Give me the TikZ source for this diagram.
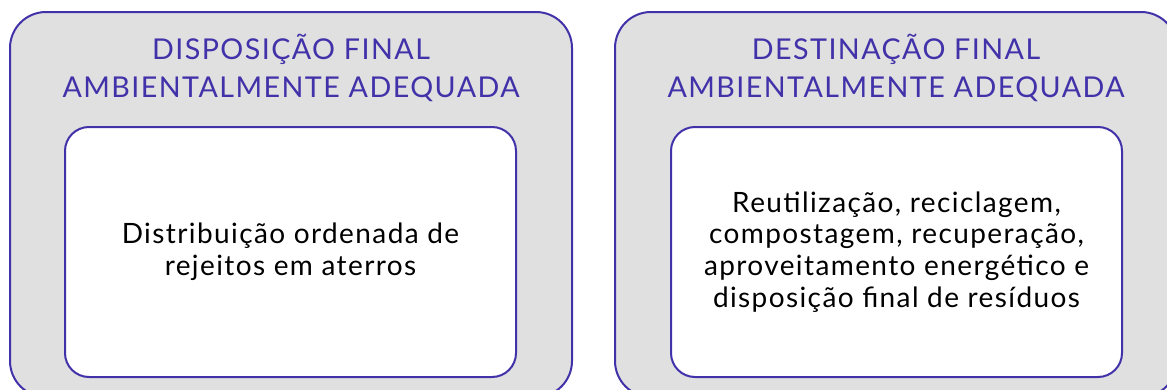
\documentclass[tikz,border=0pt]{standalone}
\usepackage{fontspec}
\setmainfont{Lato}[LetterSpace=5]
\usetikzlibrary{positioning}

\definecolor{roxo}{RGB}{66,50,170}
\definecolor{cinza}{RGB}{224,224,224}

\tikzset{
  caixa/.style={draw=roxo, line width=1.5pt, fill=cinza, rounded corners=27pt,
    minimum width=421.5pt, minimum height=288.75pt, inner sep=0pt},
  interna/.style={draw=roxo, line width=1.5pt, fill=white, rounded corners=18pt,
    minimum width=338.25pt, minimum height=187.5pt, inner sep=0pt,
    align=center, font=\fontsize{21}{23.8}\selectfont},
  titulo/.style={text=roxo, align=center, font=\fontsize{21.5}{29}\selectfont}
}

\begin{document}
\begin{tikzpicture}[x=0.75pt,y=-0.75pt]

\useasboundingbox (0,0) rectangle (1167,389);
\clip (0,0) rectangle (1167,389);

  % caixas externas
  \node[caixa] (esq) at (291,204.5) {};
  \node[caixa] (dir) at (896,204.5) {};

  \node[titulo] (tesq) at (291,68) {DISPOSIÇÃO FINAL\\AMBIENTALMENTE ADEQUADA};
  \node[titulo] (tdir) at (896,68) {DESTINAÇÃO FINAL\\AMBIENTALMENTE ADEQUADA};

  % caixas internas
  \node[interna] (iesq) at (290.5,252) {Distribuição ordenada de\\rejeitos em aterros};
  \node[interna] (idir) at (896.5,252) {Reutilização, reciclagem,\\compostagem, recuperação,\\aproveitamento energético e\\disposição final de resíduos};

\end{tikzpicture}
\end{document}
